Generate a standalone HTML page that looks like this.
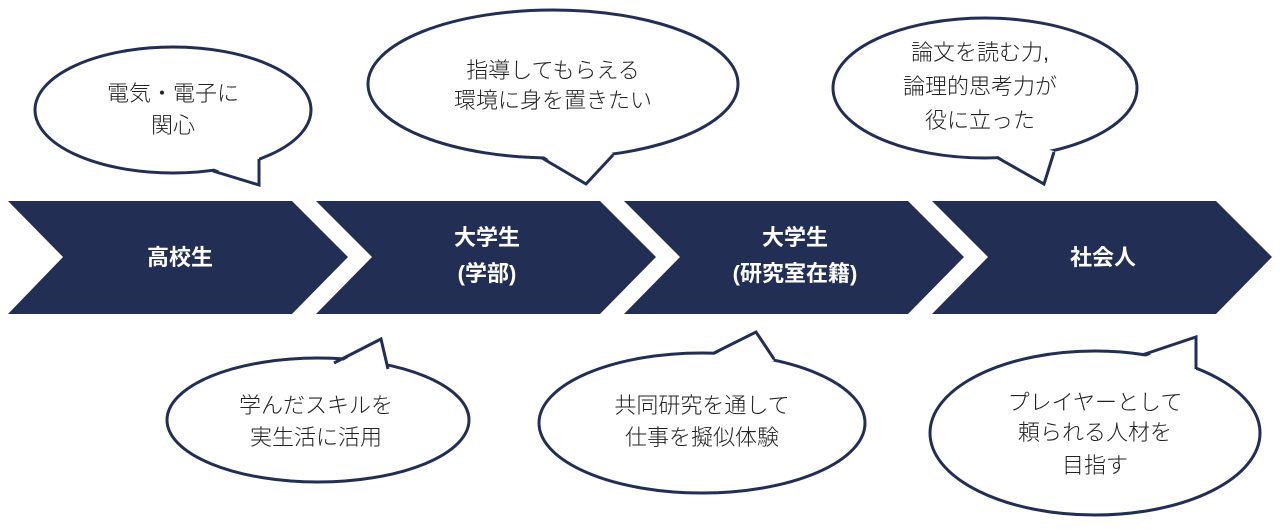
<!DOCTYPE html>
<html><head><meta charset="utf-8"><style>
html,body{margin:0;padding:0;background:#fff;}
svg{display:block;}
.b{font-family:"Liberation Sans","Noto Sans CJK JP",sans-serif;font-size:22px;font-weight:300;fill:#222;text-anchor:middle;}
.w{font-family:"Liberation Sans","Noto Sans CJK JP",sans-serif;font-size:22px;font-weight:bold;fill:#fff;text-anchor:middle;}
</style></head><body>
<svg width="1280" height="529" viewBox="0 0 1280 529" xmlns="http://www.w3.org/2000/svg">
<g fill="#232e54">
<polygon points="8,201 292,201 348,257 292,314 8,314 63,257"/>
<polygon points="316,201 600,201 656,257 600,314 316,314 372,257"/>
<polygon points="624,201 908,201 964,257 908,314 624,314 680,257"/>
<polygon points="932,201 1216,201 1272,257 1216,314 932,314 988,257"/>
</g>
<text class="w" x="180" y="265">高校生</text>
<text class="w" x="487" y="245">大学生</text>
<text class="w" x="487" y="281">(学部)</text>
<text class="w" x="795" y="245">大学生</text>
<text class="w" x="795" y="281">(研究室在籍)</text>
<text class="w" x="1103" y="265">社会人</text>

<g stroke="#232e54" stroke-width="3" fill="#fff">
<ellipse cx="173" cy="110" rx="138" ry="63"/>
<polygon points="212,168 259,185 259,157 235,150" stroke="none"/>
<polyline points="213,171 259,185 259,159" fill="none"/>

<ellipse cx="553" cy="84" rx="185" ry="74"/>
<polygon points="542,155 586,184 613,153 580,145" stroke="none"/>
<polyline points="542,158 586,184 613,155" fill="none"/>

<ellipse cx="985" cy="88" rx="152" ry="70"/>
<polygon points="998,156 1044,184 1054,151 1025,145" stroke="none"/>
<polyline points="998,158 1044,184 1054,152" fill="none"/>

<ellipse cx="318" cy="420" rx="151" ry="62"/>
<polygon points="334,366 381,339 388,372 360,378" stroke="none"/>
<polyline points="334,363 381,339 388,369" fill="none"/>

<ellipse cx="702" cy="423" rx="163" ry="70"/>
<polygon points="714,355 756,332 774,361 740,365" stroke="none"/>
<polyline points="714,353 756,332 774,359" fill="none"/>

<ellipse cx="1095" cy="433" rx="165" ry="82"/>
<polygon points="1142,358 1196,337 1196,372 1165,368" stroke="none"/>
<polyline points="1142,355 1196,337 1196,369" fill="none"/>
</g>

<text class="b" x="173" y="101">電気・電子に</text>
<text class="b" x="173" y="133">関心</text>
<text class="b" x="553" y="78">指導してもらえる</text>
<text class="b" x="553" y="108">環境に身を置きたい</text>
<text class="b" x="980" y="60">論文を読む力,</text>
<text class="b" x="980" y="94">論理的思考力が</text>
<text class="b" x="980" y="128">役に立った</text>
<text class="b" x="316" y="413">学んだスキルを</text>
<text class="b" x="316" y="445">実生活に活用</text>
<text class="b" x="702" y="413">共同研究を通して</text>
<text class="b" x="702" y="445">仕事を擬似体験</text>
<text class="b" x="1095" y="410">プレイヤーとして</text>
<text class="b" x="1095" y="440">頼られる人材を</text>
<text class="b" x="1095" y="473">目指す</text>
</svg>
</body></html>
